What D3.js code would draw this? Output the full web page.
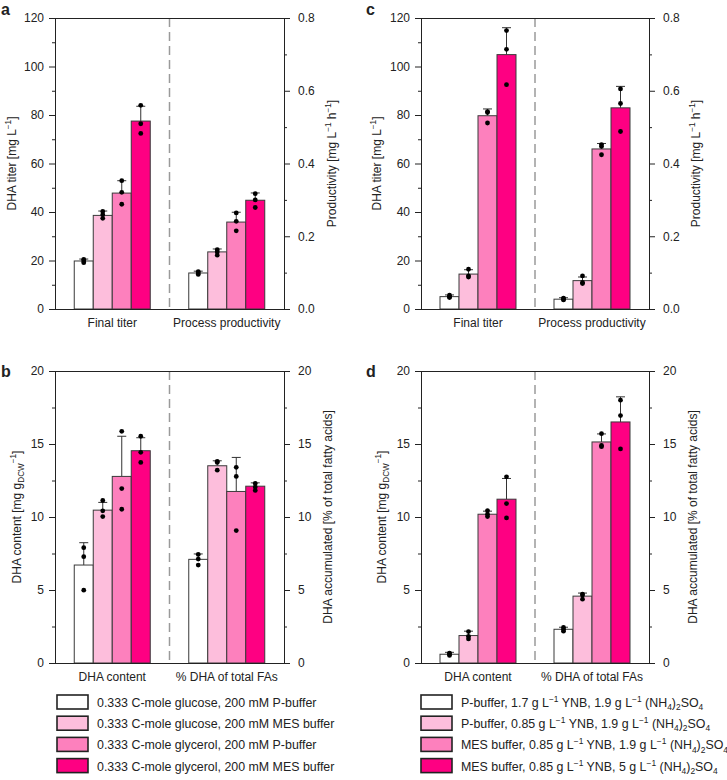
<!DOCTYPE html>
<html>
<head>
<meta charset="utf-8">
<script src="https://cdn.jsdelivr.net/npm/d3@7"></script>
<style>
  body { margin: 0; background: #fff; }
  svg text { font-family: "Liberation Sans", Arial, sans-serif; fill: #222; }
</style>
</head>
<body>
<svg id="chart" width="727" height="780"></svg>
<script>
// ---------------- DATA ----------------
const groupsTop = ["Final titer", "Process productivity"];
const groupsBottom = ["DHA content", "% DHA of total FAs"];

const seriesAB = [
  "0.333 C-mole glucose, 200 mM P-buffer",
  "0.333 C-mole glucose, 200 mM MES buffer",
  "0.333 C-mole glycerol, 200 mM P-buffer",
  "0.333 C-mole glycerol, 200 mM MES buffer"
];
const seriesCD = [
  "P-buffer, 1.7 g L^{−1} YNB, 1.9 g L^{−1} (NH_{4})_{2}SO_{4}",
  "P-buffer, 0.85 g L^{−1} YNB, 1.9 g L^{−1} (NH_{4})_{2}SO_{4}",
  "MES buffer, 0.85 g L^{−1} YNB, 1.9 g L^{−1} (NH_{4})_{2}SO_{4}",
  "MES buffer, 0.85 g L^{−1} YNB, 5 g L^{−1} (NH_{4})_{2}SO_{4}"
];
const colors = ["#ffffff", "#fdbedc", "#fd80bd", "#fe0082"];

const titerTicks = [0, 20, 40, 60, 80, 100, 120];
const prodTicks = [0, 0.2, 0.4, 0.6, 0.8];
const contentTicks = [0, 5, 10, 15, 20];

// Panel a
const aTiterMean = [19.8, 38.6, 47.8, 77.5];
const aTiterUpper = [20.6, 40.4, 52.9, 83.6];
const aTiterPts = [[20.5, 19.8, 19.1], [40.2, 38.9, 37.4], [52.9, 48.1, 43.2], [84.0, 76.4, 72.4]];
const aProdMean = [0.099, 0.157, 0.239, 0.299];
const aProdUpper = [0.104, 0.165, 0.266, 0.319];
const aProdPts = [[0.103, 0.099, 0.095], [0.163, 0.157, 0.148], [0.264, 0.241, 0.215], [0.317, 0.300, 0.279]];

// Panel b
const bContentMean = [6.71, 10.47, 12.78, 14.54];
const bContentUpper = [8.24, 11.0, 15.53, 15.43];
const bContentPts = [[7.9, 7.28, 4.99], [11.13, 10.42, 10.03], [15.87, 11.95, 10.53], [15.53, 14.43, 13.74]];
const bPctMean = [7.1, 13.51, 11.75, 12.11];
const bPctUpper = [7.47, 13.85, 14.08, 12.34];
const bPctPts = [[7.44, 7.12, 6.71], [13.81, 13.74, 13.21], [13.4, 12.78, 9.07], [12.3, 12.05, 11.82]];

// Panel c
const cTiterMean = [5.1, 14.4, 79.7, 104.9];
const cTiterUpper = [5.8, 16.2, 82.5, 116.0];
const cTiterPts = [[5.7, 5.0, 4.7], [16.4, 13.6, 13.2], [81.4, 81.0, 76.7], [114.8, 107.1, 92.5]];
const cProdMean = [0.027, 0.078, 0.440, 0.553];
const cProdUpper = [0.031, 0.088, 0.455, 0.612];
const cProdPts = [[0.030, 0.027, 0.025], [0.091, 0.073, 0.070], [0.452, 0.447, 0.424], [0.605, 0.565, 0.488]];

// Panel d
const dContentMean = [0.60, 1.88, 10.19, 11.22];
const dContentUpper = [0.73, 2.18, 10.40, 12.64];
const dContentPts = [[0.68, 0.62, 0.52], [2.15, 1.83, 1.65], [10.44, 10.19, 10.03], [12.75, 10.92, 9.94]];
const dPctMean = [2.31, 4.58, 15.14, 16.51];
const dPctUpper = [2.45, 4.79, 15.69, 18.23];
const dPctPts = [[2.43, 2.30, 2.18], [4.72, 4.65, 4.37], [15.71, 14.90, 14.82], [18.0, 16.95, 14.66]];

// ---------------- HELPERS ----------------
const svg = d3.select("#chart");
const AX = "#222";

function richText(textSel, str, fs) {
  // parse ^{..} and _{..}
  const re = /(\^\{[^}]*\}|_\{[^}]*\})/g;
  const parts = str.split(re).filter(s => s.length);
  let offset = 0;
  parts.forEach(p => {
    let type = null, t = p;
    if (p.startsWith("^{")) { type = "sup"; t = p.slice(2, -1); }
    else if (p.startsWith("_{")) { type = "sub"; t = p.slice(2, -1); }
    const target = type === "sup" ? -0.4 * fs : type === "sub" ? 0.25 * fs : 0;
    const ts = textSel.append("tspan").text(t).attr("dy", target - offset);
    if (type) ts.attr("font-size", fs * 0.68);
    offset = target;
  });
}

function drawPanel(opt) {
  const { left, right, top, bottom, groups, yLdomain, yLticks, yLminor, yRdomain, yRticks, yRminor,
          yRfmt, means, uppers, pts, leftTitle, rightTitle, letter, leftTitleX, rightTitleX } = opt;
  const g = svg.append("g");
  const x0 = d3.scaleBand().domain(groups).range([left, right]).paddingInner(0).paddingOuter(0);
  const x1 = d3.scaleBand().domain([0, 1, 2, 3]).range([-38, 38]);
  const yL = d3.scaleLinear().domain(yLdomain).range([bottom, top]);
  const yR = d3.scaleLinear().domain(yRdomain).range([bottom, top]);
  const scales = [yL, yR];

  // divider
  g.append("line")
    .attr("x1", x0(groups[1])).attr("x2", x0(groups[1]))
    .attr("y1", top).attr("y2", bottom)
    .attr("stroke", "#9a9a9a").attr("stroke-width", 1.5).attr("stroke-dasharray", "9,5");

  groups.forEach((grp, gi) => {
    const y = scales[gi];
    const cx = x0(grp) + x0.bandwidth() / 2;
    const gg = g.append("g");
    // error whiskers
    gg.selectAll("line.err").data(means[gi]).join("line")
      .attr("x1", (d, i) => cx + x1(i) + x1.bandwidth() / 2)
      .attr("x2", (d, i) => cx + x1(i) + x1.bandwidth() / 2)
      .attr("y1", d => y(d)).attr("y2", (d, i) => y(uppers[gi][i]))
      .attr("stroke", "#333").attr("stroke-width", 1);
    gg.selectAll("line.cap").data(uppers[gi]).join("line")
      .attr("x1", (d, i) => cx + x1(i) + x1.bandwidth() / 2 - 4.5)
      .attr("x2", (d, i) => cx + x1(i) + x1.bandwidth() / 2 + 4.5)
      .attr("y1", d => y(d)).attr("y2", d => y(d))
      .attr("stroke", "#333").attr("stroke-width", 1);
    // bars
    gg.selectAll("rect").data(means[gi]).join("rect")
      .attr("x", (d, i) => cx + x1(i))
      .attr("width", x1.bandwidth())
      .attr("y", d => y(d))
      .attr("height", d => bottom - y(d))
      .attr("fill", (d, i) => colors[i])
      .attr("stroke", "#3a3a3a").attr("stroke-width", 1);
    // dots
    pts[gi].forEach((arr, i) => {
      gg.selectAll(null).data(arr).join("circle")
        .attr("cx", cx + x1(i) + x1.bandwidth() / 2)
        .attr("cy", d => y(d))
        .attr("r", 2.4)
        .attr("fill", "#000");
    });
    // x label
    g.append("text").attr("x", cx).attr("y", bottom + 18)
      .attr("text-anchor", "middle").attr("font-size", 12).text(grp);
  });

  // axes
  const styleAxis = sel => {
    sel.selectAll("path, line").attr("stroke", AX);
    sel.selectAll("text").attr("font-size", 12).attr("fill", AX)
      .attr("font-family", "'Liberation Sans', Arial, sans-serif");
  };
  const aL = g.append("g").attr("transform", `translate(${left},0)`)
    .call(d3.axisLeft(yL).tickValues(yLticks).tickSize(6).tickSizeOuter(0).tickPadding(5));
  styleAxis(aL);
  const mL = g.append("g").attr("transform", `translate(${left},0)`)
    .call(d3.axisLeft(yL).tickValues(yLminor).tickSize(3).tickFormat(""));
  mL.select(".domain").remove(); styleAxis(mL);

  const aR = g.append("g").attr("transform", `translate(${right},0)`)
    .call(d3.axisRight(yR).tickValues(yRticks).tickSize(6).tickSizeOuter(0).tickPadding(8).tickFormat(yRfmt));
  styleAxis(aR);
  const mR = g.append("g").attr("transform", `translate(${right},0)`)
    .call(d3.axisRight(yR).tickValues(yRminor).tickSize(3).tickFormat(""));
  mR.select(".domain").remove(); styleAxis(mR);

  // top & bottom frame lines
  g.append("line").attr("x1", left).attr("x2", right).attr("y1", top + 0.5).attr("y2", top + 0.5)
    .attr("stroke", AX);
  g.append("line").attr("x1", left).attr("x2", right).attr("y1", bottom + 0.5).attr("y2", bottom + 0.5)
    .attr("stroke", AX);

  // titles
  const midY = (top + bottom) / 2;
  const lt = g.append("text").attr("transform", `translate(${leftTitleX},${midY}) rotate(-90)`)
    .attr("text-anchor", "middle").attr("font-size", 12);
  richText(lt, leftTitle, 12);
  const rt = g.append("text").attr("transform", `translate(${rightTitleX},${midY}) rotate(-90)`)
    .attr("text-anchor", "middle").attr("font-size", 12);
  richText(rt, rightTitle, 12);

  // panel letter
  svg.append("text").attr("x", opt.letterX).attr("y", opt.letterY)
    .attr("font-size", 16).attr("font-weight", "bold").attr("fill", "#111").text(letter);
}

const titerMinor = [10, 30, 50, 70, 90, 110];
const prodMinor = [0.1, 0.3, 0.5, 0.7];
const contentMinor = [2.5, 7.5, 12.5, 17.5];
const fmt1 = d3.format(".1f");

drawPanel({ left: 55, right: 284, top: 18, bottom: 309, groups: groupsTop,
  yLdomain: [0, 120], yLticks: titerTicks, yLminor: titerMinor,
  yRdomain: [0, 0.8], yRticks: prodTicks, yRminor: prodMinor, yRfmt: fmt1,
  means: [aTiterMean, aProdMean], uppers: [aTiterUpper, aProdUpper], pts: [aTiterPts, aProdPts],
  leftTitle: "DHA titer [mg L^{−1}]", rightTitle: "Productivity [mg L^{−1} h^{−1}]",
  leftTitleX: 16, rightTitleX: 336, letter: "a", letterX: 1, letterY: 15 });

drawPanel({ left: 55, right: 284, top: 371, bottom: 663, groups: groupsBottom,
  yLdomain: [0, 20], yLticks: contentTicks, yLminor: contentMinor,
  yRdomain: [0, 20], yRticks: contentTicks, yRminor: contentMinor, yRfmt: d3.format("d"),
  means: [bContentMean, bPctMean], uppers: [bContentUpper, bPctUpper], pts: [bContentPts, bPctPts],
  leftTitle: "DHA content [mg g_{DCW}^{−1}]", rightTitle: "DHA accumulated [% of total fatty acids]",
  leftTitleX: 21, rightTitleX: 332, letter: "b", letterX: 1, letterY: 377 });

drawPanel({ left: 421, right: 649, top: 18, bottom: 309, groups: groupsTop,
  yLdomain: [0, 120], yLticks: titerTicks, yLminor: titerMinor,
  yRdomain: [0, 0.8], yRticks: prodTicks, yRminor: prodMinor, yRfmt: fmt1,
  means: [cTiterMean, cProdMean], uppers: [cTiterUpper, cProdUpper], pts: [cTiterPts, cProdPts],
  leftTitle: "DHA titer [mg L^{−1}]", rightTitle: "Productivity [mg L^{−1} h^{−1}]",
  leftTitleX: 381, rightTitleX: 700, letter: "c", letterX: 366, letterY: 15 });

drawPanel({ left: 421, right: 649, top: 371, bottom: 663, groups: groupsBottom,
  yLdomain: [0, 20], yLticks: contentTicks, yLminor: contentMinor,
  yRdomain: [0, 20], yRticks: contentTicks, yRminor: contentMinor, yRfmt: d3.format("d"),
  means: [dContentMean, dPctMean], uppers: [dContentUpper, dPctUpper], pts: [dContentPts, dPctPts],
  leftTitle: "DHA content [mg g_{DCW}^{−1}]", rightTitle: "DHA accumulated [% of total fatty acids]",
  leftTitleX: 386, rightTitleX: 697, letter: "d", letterX: 366, letterY: 377 });

// ---------------- LEGENDS ----------------
function legend(x, labels) {
  const lg = svg.append("g");
  labels.forEach((lab, i) => {
    const y = 695 + i * 21.2;
    lg.append("rect").attr("x", x).attr("y", y).attr("width", 31).attr("height", 14)
      .attr("fill", colors[i]).attr("stroke", "#222").attr("stroke-width", 1.6);
    const t = lg.append("text").attr("x", x + 40).attr("y", y + 12).attr("font-size", 12.4);
    richText(t, lab, 12.4);
  });
}
legend(57, seriesAB);
legend(421, seriesCD);
</script>
</body>
</html>
